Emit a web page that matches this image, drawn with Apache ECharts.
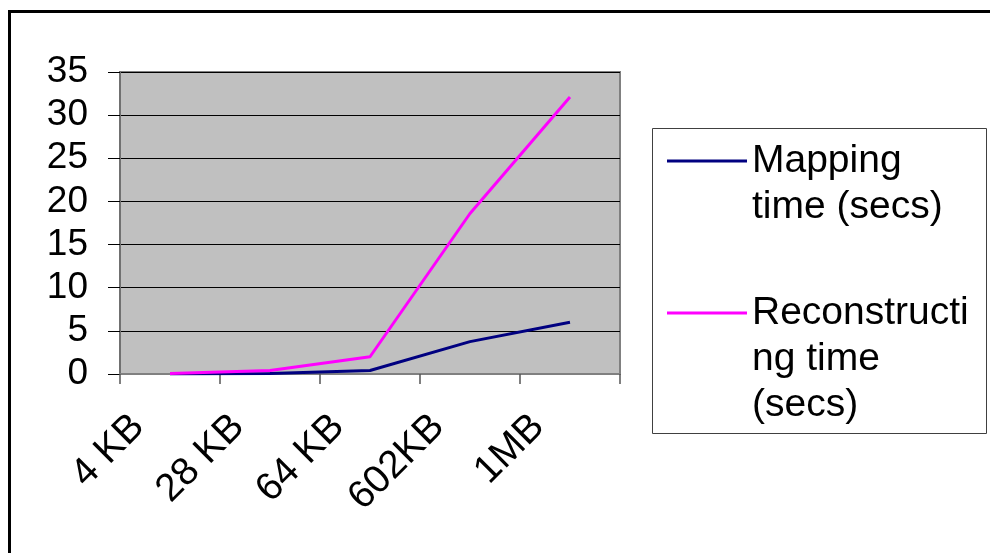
<!DOCTYPE html>
<html>
<head>
<meta charset="utf-8">
<style>
  html, body { margin: 0; padding: 0; background: #fff; }
  #chart { width: 990px; height: 553px; }
</style>
<script src="https://cdn.jsdelivr.net/npm/echarts@6/dist/echarts.min.js"></script>
</head>
<body>
<div id="chart"></div>
<script>
// File sizes on the category axis
const fileSizes = ['4 KB', '28 KB', '64 KB', '602KB', '1MB'];
// Times in seconds
const mappingTime = [0, 0.05, 0.4, 3.75, 6.0];
const reconstructingTime = [0.05, 0.4, 2.0, 18.6, 32.1];
// Value axis range
const yMin = 0, yMax = 35, yStep = 5;
// Legend text, wrapped the way the key box shows it
const mappingLines = ['Mapping', 'time (secs)'];
const reconstructingLines = ['Reconstructi', 'ng time', '(secs)'];

const FONT = '"Liberation Sans", Arial, sans-serif';

// Blank lines on top so the key line sits level with the first text line
function keyText(lines) {
  return new Array(lines.length - 1).fill('').concat(lines).join('\n');
}

const chart = echarts.init(document.getElementById('chart'), null, { renderer: 'canvas' });

chart.setOption({
  animation: false,
  backgroundColor: '#ffffff',
  textStyle: { fontFamily: FONT },
  grid: {
    left: 120, right: 370, top: 72, bottom: 179,
    show: true,
    backgroundColor: '#c0c0c0',
    borderColor: '#808080',
    borderWidth: 2
  },
  xAxis: {
    type: 'category',
    data: fileSizes,
    boundaryGap: true,
    axisLine: { lineStyle: { color: '#808080', width: 2 } },
    axisTick: { show: true, length: 10, interval: 0, lineStyle: { color: '#555', width: 1.5 } },
    axisLabel: {
      interval: 0, rotate: 45, margin: 15,
      padding: [0, 45, 0, 0],
      fontSize: 39, fontFamily: FONT, color: '#000'
    }
  },
  yAxis: {
    type: 'value',
    min: yMin, max: yMax, interval: yStep,
    axisLine: { show: true, lineStyle: { color: '#707070', width: 2 } },
    axisTick: { show: true, length: 12, lineStyle: { color: '#000', width: 1 } },
    splitLine: { show: true, lineStyle: { color: '#000', width: 1 } },
    axisLabel: { margin: 32, fontSize: 37, fontFamily: FONT, color: '#000' }
  },
  legend: [
    {
      orient: 'vertical', left: 667, top: 92, padding: 0,
      icon: 'rect', itemWidth: 80, itemHeight: 3,
      data: ['Mapping time (secs)'],
      formatter: () => keyText(mappingLines),
      textStyle: { fontSize: 39, lineHeight: 46, fontFamily: FONT, color: '#000' }
    },
    {
      orient: 'vertical', left: 667, top: 198, padding: 0,
      icon: 'rect', itemWidth: 80, itemHeight: 3,
      data: ['Reconstructing time (secs)'],
      formatter: () => keyText(reconstructingLines),
      textStyle: { fontSize: 39, lineHeight: 46, fontFamily: FONT, color: '#000' }
    }
  ],
  graphic: [
    {
      type: 'rect',
      shape: { x: 9.5, y: 11.5, width: 1100, height: 700 },
      style: { fill: 'none', stroke: '#000', lineWidth: 3 },
      silent: true
    },
    {
      type: 'rect',
      shape: { x: 652.5, y: 128.5, width: 334, height: 305 },
      style: { fill: 'none', stroke: '#404040', lineWidth: 1 },
      silent: true
    }
  ],
  series: [
    {
      name: 'Mapping time (secs)',
      type: 'line',
      data: mappingTime,
      symbol: 'none',
      color: '#000080',
      lineStyle: { color: '#000080', width: 3 }
    },
    {
      name: 'Reconstructing time (secs)',
      type: 'line',
      data: reconstructingTime,
      symbol: 'none',
      color: '#ff00ff',
      lineStyle: { color: '#ff00ff', width: 3 }
    }
  ]
});
</script>
</body>
</html>
